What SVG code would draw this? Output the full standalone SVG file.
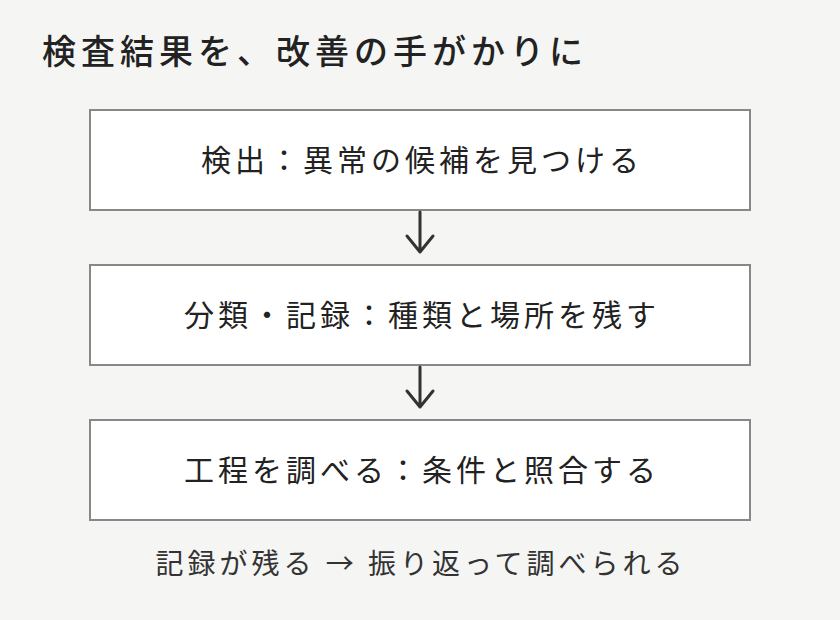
<svg xmlns="http://www.w3.org/2000/svg" width="840" height="620" viewBox="0 0 840 620">
<style>
text{font-family:"Noto Sans CJK JP","Noto Sans",sans-serif;fill:#222}
.box{fill:#fff;stroke:#888;stroke-width:2}
.lbl{font-size:30px;text-anchor:middle;letter-spacing:4px}
.con{stroke:#333;stroke-width:3;fill:none;stroke-linecap:round;stroke-linejoin:round}
</style>
<rect width="840" height="620" fill="#f5f5f3"/>
<text x="42" y="64" font-size="34" font-weight="500" letter-spacing="5">検査結果を、改善の手がかりに</text>
<g id="n1"><rect class="box" x="90" y="110" width="660" height="100"/><text class="lbl" x="422" y="171">検出：異常の候補を見つける</text></g>
<g id="n2"><rect class="box" x="90" y="265" width="660" height="100"/><text class="lbl" x="422" y="326">分類・記録：種類と場所を残す</text></g>
<g id="n3"><rect class="box" x="90" y="420" width="660" height="100"/><text class="lbl" x="422" y="481">工程を調べる：条件と照合する</text></g>
<g id="connectors">
<path class="con" d="M420,212 V252 M407,236 L420,252 L433,236"/>
<path class="con" d="M420,367 V407 M407,391 L420,407 L433,391"/>
</g>
<text x="421" y="574" font-size="28" text-anchor="middle" letter-spacing="4" style="fill:#333">記録が残る → 振り返って調べられる</text>
</svg>
